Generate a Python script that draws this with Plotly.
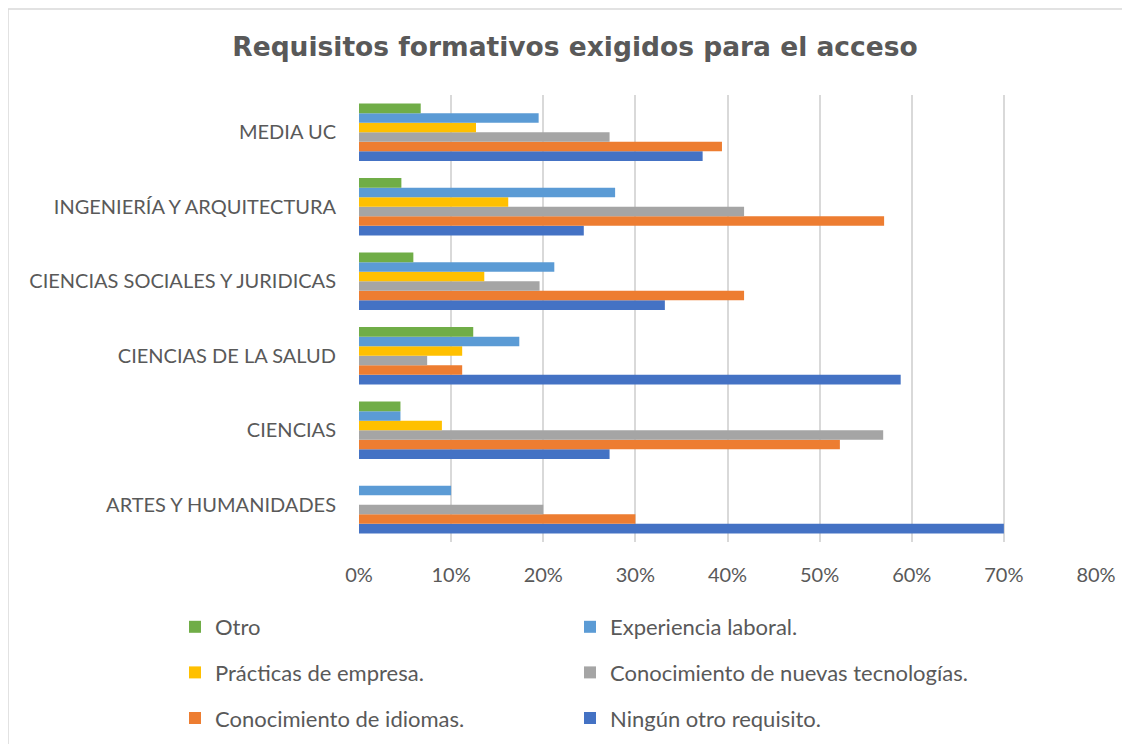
import plotly.graph_objects as go

categories = ["ARTES Y HUMANIDADES", "CIENCIAS", "CIENCIAS DE LA SALUD",
              "CIENCIAS SOCIALES Y JURIDICAS", "INGENIERÍA Y ARQUITECTURA", "MEDIA UC"]

ningun = [0.70, 0.272, 0.588, 0.332, 0.244, 0.373]
idiomas = [0.30, 0.522, 0.112, 0.418, 0.570, 0.394]
tecnologias = [0.20, 0.569, 0.074, 0.196, 0.418, 0.272]
practicas = [0.0, 0.090, 0.112, 0.136, 0.162, 0.127]
experiencia = [0.10, 0.045, 0.174, 0.212, 0.278, 0.195]
otro = [0.0, 0.045, 0.124, 0.059, 0.046, 0.067]

series = [
    ("Ningún otro requisito.", ningun, "#4472C4", "legend2", 6),
    ("Conocimiento de idiomas.", idiomas, "#ED7D31", "legend", 5),
    ("Conocimiento de nuevas tecnologías.", tecnologias, "#A5A5A5", "legend2", 4),
    ("Prácticas de empresa.", practicas, "#FFC000", "legend", 3),
    ("Experiencia laboral.", experiencia, "#5B9BD5", "legend2", 2),
    ("Otro", otro, "#70AD47", "legend", 1),
]

FONT = "Lato"
TXT = "#595959"
# page has an 8px body margin, so the figure is drawn 8px in and down
W, H = 1122, 736
ML, MR, MT, MB = 351, 34, 87, 202
PW, PH = W - ML - MR, H - MT - MB

fig = go.Figure()
for name, vals, color, leg, rank in series:
    fig.add_trace(go.Bar(
        y=categories, x=vals, name=name, orientation="h",
        marker=dict(color=color, line=dict(width=0)),
        legend=leg, legendrank=rank, legendgroup=name,
    ))

legend_common = dict(orientation="v", tracegroupgap=14, bgcolor="rgba(0,0,0,0)",
                     font=dict(family=FONT, size=22, color=TXT), itemwidth=30,
                     yanchor="top", xanchor="left",
                     xref="container", yref="container")

fig.update_layout(
    width=W, height=H,
    paper_bgcolor="white", plot_bgcolor="white",
    margin=dict(l=ML, r=MR, t=MT, b=MB, autoexpand=False),
    barmode="group", bargap=0.23, bargroupgap=0,
    title=dict(text="<b>Requisitos formativos exigidos para el acceso</b>",
               x=567 / W, xanchor="center", y=1 - 39 / H, yanchor="middle",
               xref="container", yref="container",
               font=dict(family="DejaVu Sans", size=26.5, color=TXT)),
    font=dict(family=FONT, size=20, color=TXT),
    xaxis=dict(range=[0, 0.8], dtick=0.1, tickformat=".0%",
               showgrid=True, gridcolor="#D9D9D9", gridwidth=1.5,
               zeroline=False, showline=False, ticks="", automargin=False,
               ticklabelstandoff=19,
               tickfont=dict(family=FONT, size=20, color=TXT)),
    yaxis=dict(showgrid=False, showline=False, ticks="", automargin=False,
               ticklabelstandoff=22,
               tickfont=dict(family=FONT, size=20, color=TXT)),
    legend=dict(x=167 / W, y=1 - 598 / H, **legend_common),
    legend2=dict(x=562 / W, y=1 - 598 / H, **legend_common),
)

# chart border (left and top edges visible in the reference)
bx = (0 - ML) / PW
by = (H - MB - 1) / PH
fig.add_shape(type="line", xref="paper", yref="paper",
              x0=bx, x1=bx, y0=-MB / PH, y1=by,
              line=dict(color="#D9D9D9", width=1.5))
fig.add_shape(type="line", xref="paper", yref="paper",
              x0=bx, x1=(PW + MR) / PW, y0=by, y1=by,
              line=dict(color="#D9D9D9", width=1.5))

fig.write_html("out.html")
